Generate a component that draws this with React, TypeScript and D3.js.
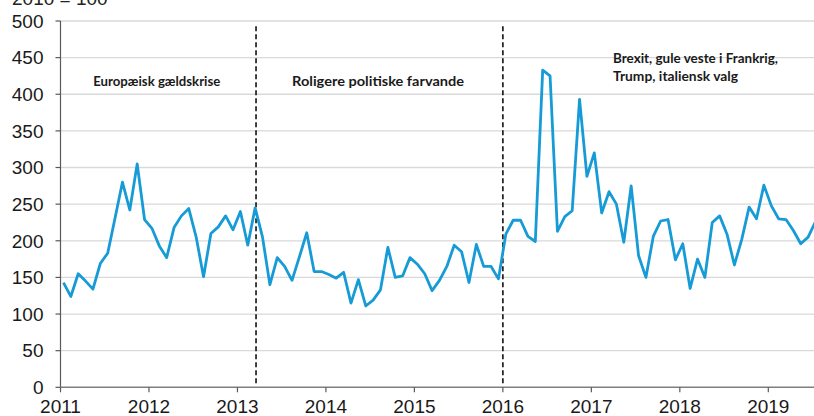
import React from "react";
import * as d3 from "d3";

// Monthly index values, Jan 2011 onwards (2010 = 100)
const startYear = 2011;
const values: number[] = [
  143, 124, 155, 145, 134, 169, 183, 231, 280, 242, 305, 229,
  217, 193, 177, 218, 234, 244, 205, 151, 210, 219, 234, 215,
  240, 194, 245, 205, 140, 177, 165, 146, 178, 211, 158, 158,
  154, 149, 157, 115, 147, 111, 119, 133, 191, 150, 152, 177,
  168, 155, 132, 146, 165, 194, 185, 143, 195, 165, 165, 148,
  209, 228, 228, 206, 199, 433, 425, 213, 233, 241, 393, 288,
  320, 238, 267, 250, 198, 275, 180, 150, 206, 227, 229, 174,
  196, 135, 175, 150, 225, 234, 209, 167, 202, 246, 230, 276,
  248, 230, 229, 214, 196, 205, 226,
];
const yearTicks: number[] = [2011, 2012, 2013, 2014, 2015, 2016, 2017, 2018, 2019];
const valueTicks: number[] = [0, 50, 100, 150, 200, 250, 300, 350, 400, 450, 500];
const eventYears: number[] = [2013.21, 2016.0];
const annotationLines: string[][] = [
  ["Europæisk gældskrise"],
  ["Roligere politiske farvande"],
  ["Brexit, gule veste i Frankrig,", "Trump, italiensk valg"],
];
const annotationYears: number[] = [2011.37, 2013.617, 2017.245];
const annotationValues: number[] = [417, 418, 430];
const unitLabel = "2010 = 100";

// layout: rendered text widths of annotation lines (px)
const annotationWidths: number[][] = [[127], [172], [165, 125]];

const W = 814;
const H = 416;

export default function App() {
  const x = d3.scaleLinear().domain([2011, 2019]).range([60.5, 768.3]);
  const y = d3.scaleLinear().domain([0, 500]).range([387.3, 21]);

  const pts = values.map((v, i) => ({ t: startYear + (i + 0.4) / 12, v }));
  const line = d3
    .line<{ t: number; v: number }>()
    .x((d) => x(d.t))
    .y((d) => y(d.v));

  const tickFont = "'Liberation Sans', Arial, sans-serif";
  const annFont = "Lato, 'Open Sans', sans-serif";

  return (
    <svg
      width={W}
      height={H}
      style={{ position: "absolute", left: 0, top: 0, display: "block", background: "#fff" }}
    >
      <text x={12} y={5} fontFamily={tickFont} fontSize={19} fill="#222">
        {unitLabel}
      </text>
      {/* gridlines */}
      {valueTicks
        .filter((v) => v > 0)
        .map((v) => (
          <line key={"g" + v} x1={x(2011)} x2={W} y1={y(v)} y2={y(v)} stroke="#d9d9d9" strokeWidth={1.3} />
        ))}
      {/* event lines */}
      {eventYears.map((e) => (
        <line
          key={"e" + e}
          x1={x(e)}
          x2={x(e)}
          y1={y(493)}
          y2={y(5)}
          stroke="#111"
          strokeWidth={1.6}
          strokeDasharray="5,3"
        />
      ))}
      {/* data line */}
      <path d={line(pts) || ""} fill="none" stroke="#169bd7" strokeWidth={2.8} strokeLinejoin="round" />
      {/* y axis */}
      <line x1={x(2011)} x2={x(2011)} y1={y(500)} y2={y(0)} stroke="#595959" strokeWidth={1.2} />
      {valueTicks.map((v) => (
        <g key={"y" + v}>
          <line x1={x(2011) - 5} x2={x(2011)} y1={y(v)} y2={y(v)} stroke="#595959" strokeWidth={1.2} />
          <text x={43.5} y={y(v) + 6.8} textAnchor="end" fontFamily={tickFont} fontSize={19} fill="#1a1a1a">
            {v}
          </text>
        </g>
      ))}
      {/* x axis */}
      <line x1={x(2011)} x2={W} y1={y(0)} y2={y(0)} stroke="#7f7f7f" strokeWidth={1.4} />
      {yearTicks.map((t) => (
        <g key={"x" + t}>
          <line x1={x(t)} x2={x(t)} y1={y(0)} y2={y(0) + 5} stroke="#595959" strokeWidth={1.2} />
          <text x={x(t)} y={413} textAnchor="middle" fontFamily={tickFont} fontSize={19} fill="#1a1a1a">
            {t}
          </text>
        </g>
      ))}
      {/* annotations */}
      {annotationLines.map((lines, i) => (
        <text key={"a" + i} fontFamily={annFont} fontWeight="bold" fontSize={13} fill="#1a1a1a">
          {lines.map((l, j) => (
            <tspan
              key={j}
              x={x(annotationYears[i])}
              y={y(annotationValues[i]) + (lines.length > 1 ? -14 : 0) + j * 18 + 4.5}
              textLength={annotationWidths[i][j]}
              lengthAdjust="spacingAndGlyphs"
            >
              {l}
            </tspan>
          ))}
        </text>
      ))}
    </svg>
  );
}
